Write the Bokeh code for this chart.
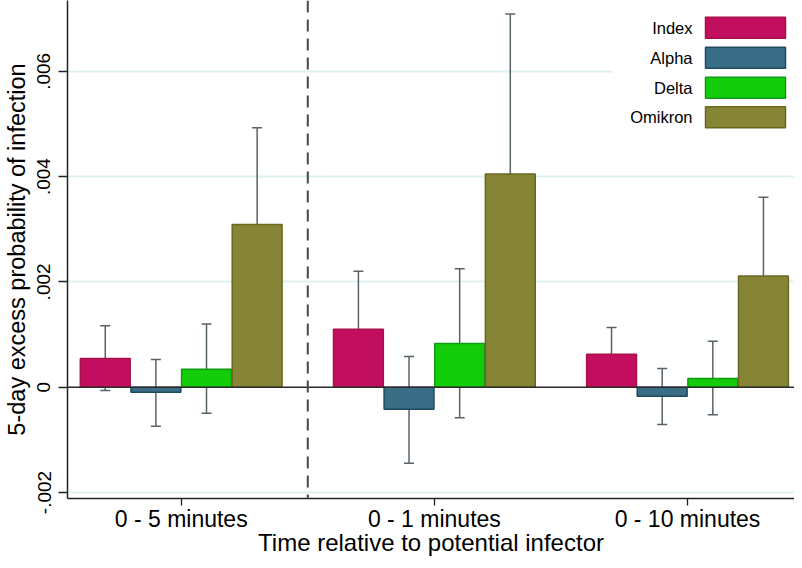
from bokeh.plotting import figure
from bokeh.models import (Range1d, FixedTicker, Span, Whisker, TeeHead, ColumnDataSource)
from bokeh.core.properties import value
from bokeh.embed import file_html
from bokeh.resources import INLINE

# ---------------- data ----------------
groups = ["0 - 5 minutes", "0 - 1 minutes", "0 - 10 minutes"]
variants = ["Index", "Alpha", "Delta", "Omikron"]

est_index = [0.000545, 0.00110, 0.000627]
est_alpha = [-0.000095, -0.000418, -0.000171]
est_delta = [0.000342, 0.00083, 0.000165]
est_omikron = [0.00309, 0.00405, 0.00211]

lo_index = [-0.000063, 0.00001, 0.000133]
lo_alpha = [-0.00074, -0.001444, -0.000709]
lo_delta = [-0.000494, -0.000582, -0.000525]
lo_omikron = [0.00127, 0.001033, 0.000627]

hi_index = [0.001166, 0.0022, 0.001134]
hi_alpha = [0.000526, 0.000583, 0.000355]
hi_delta = [0.0012, 0.00225, 0.000874]
hi_omikron = [0.004927, 0.00709, 0.00361]

y_ticks = [-0.002, 0.0, 0.002, 0.004, 0.006]
y_tick_labels = ["-.002", "0", ".002", ".004", ".006"]

x_title = "Time relative to potential infector"
y_title = "5-day excess probability of infection"

# ---------------- style ----------------
fills = ["#C20E5F", "#3A6E87", "#14CD0A", "#868536"]
edges = ["#A81048", "#1E4A60", "#0E9A12", "#6A6820"]
err_color = "#56636B"
grid_color = "#DDF1EE"
FONT = "Liberation Sans"

estimates = [est_index, est_alpha, est_delta, est_omikron]
lows = [lo_index, lo_alpha, lo_delta, lo_omikron]
highs = [hi_index, hi_alpha, hi_delta, hi_omikron]

offsets = [-0.3, -0.1, 0.1, 0.3]
bar_w = 0.197
xs = [1, 2, 3]

# pixel layout helpers (frame: left 67, top 0, right 794, bottom 498)
PX_Y = 105.3 / 0.002      # pixels per data unit in y
PX_X = 253.15             # pixels per group
ZERO_PIX = 386.7
def py(pix):
    return (ZERO_PIX - pix) / PX_Y
def pxx(pix):
    return 3 + (pix - 687) / PX_X

x0, x1 = pxx(67), pxx(794)
y0, y1 = py(498), py(0)

p = figure(width=794, height=560, output_backend="svg", toolbar_location=None,
           x_range=Range1d(x0, x1), y_range=Range1d(y0, y1),
           min_border_left=67, min_border_right=0, min_border_top=0, min_border_bottom=62)
p.outline_line_color = None
p.background_fill_color = "white"
p.border_fill_color = "white"

# grid
p.xgrid.visible = False
p.ygrid.ticker = FixedTicker(ticks=[t for t in y_ticks if t != 0])
p.ygrid.grid_line_color = grid_color
p.ygrid.grid_line_width = 2

# bars + error bars
for k in range(4):
    bx = [x + offsets[k] for x in xs]
    p.vbar(x=bx, top=estimates[k], bottom=0, width=bar_w,
           fill_color=fills[k], line_color=edges[k], line_width=1.5)
for k in range(4):
    bx = [x + offsets[k] for x in xs]
    src = ColumnDataSource(dict(x=bx, lo=lows[k], hi=highs[k]))
    w = Whisker(source=src, base="x", lower="lo", upper="hi",
                line_color=err_color, line_width=1.5,
                upper_head=TeeHead(size=10, line_color=err_color, line_width=1.5),
                lower_head=TeeHead(size=10, line_color=err_color, line_width=1.5))
    p.add_layout(w)

# zero line and separator
p.add_layout(Span(location=0, dimension="width", line_color="#2B2B2B", line_width=1.5))
p.add_layout(Span(location=1.5, dimension="height", line_color="#3E4A4F",
                  line_width=2, line_dash="12 7"))

# legend (manual, labels on the left of swatches)
p.quad(left=[pxx(612)], right=[pxx(797)], top=[y1], bottom=[py(134)],
       fill_color="white", line_color=None)
row_centers = [27.3, 57.3, 87.3, 116.7]
sw_h = 21 / PX_Y
p.quad(left=[pxx(705)] * 4, right=[pxx(785)] * 4,
       top=[py(c) + sw_h / 2 for c in row_centers],
       bottom=[py(c) - sw_h / 2 for c in row_centers],
       fill_color=fills, line_color=edges, line_width=1.5)
p.text(x=[pxx(692)] * 4, y=[py(c) for c in row_centers], text=variants,
       text_align="right", text_baseline="middle",
       text_font=value(FONT), text_font_size="16.5px", text_color="black")

# axes
xa = p.xaxis[0]
xa.ticker = FixedTicker(ticks=xs)
xa.major_label_overrides = {x: g for x, g in zip(xs, groups)}
xa.minor_tick_line_color = None
xa.major_tick_in = 0
xa.major_tick_out = 7
xa.major_tick_line_color = "#222222"
xa.major_tick_line_width = 1.3
xa.axis_line_color = "#222222"
xa.axis_line_width = 1.5
xa.major_label_text_font = FONT
xa.major_label_text_font_size = "23px"
xa.major_label_text_color = "black"
xa.major_label_standoff = 0
xa.axis_label = x_title
xa.axis_label_text_font = FONT
xa.axis_label_text_font_size = "24px"
xa.axis_label_text_font_style = "normal"
xa.axis_label_text_color = "black"
xa.axis_label_standoff = -6

ya = p.yaxis[0]
ya.ticker = FixedTicker(ticks=y_ticks)
ya.major_label_overrides = {t: l for t, l in zip(y_ticks, y_tick_labels)}
ya.major_label_orientation = "vertical"
ya.minor_tick_line_color = None
ya.major_tick_in = 0
ya.major_tick_out = 9
ya.major_tick_line_color = "#222222"
ya.major_tick_line_width = 1.3
ya.axis_line_color = "#222222"
ya.axis_line_width = 1.5
ya.major_label_text_font = FONT
ya.major_label_text_font_size = "19px"
ya.major_label_text_color = "black"
ya.major_label_standoff = 8
ya.axis_label = y_title
ya.axis_label_text_font = FONT
ya.axis_label_text_font_size = "23.5px"
ya.axis_label_text_font_style = "normal"
ya.axis_label_text_color = "black"
ya.axis_label_standoff = 5

open("out.html", "w").write(file_html(p, INLINE))
